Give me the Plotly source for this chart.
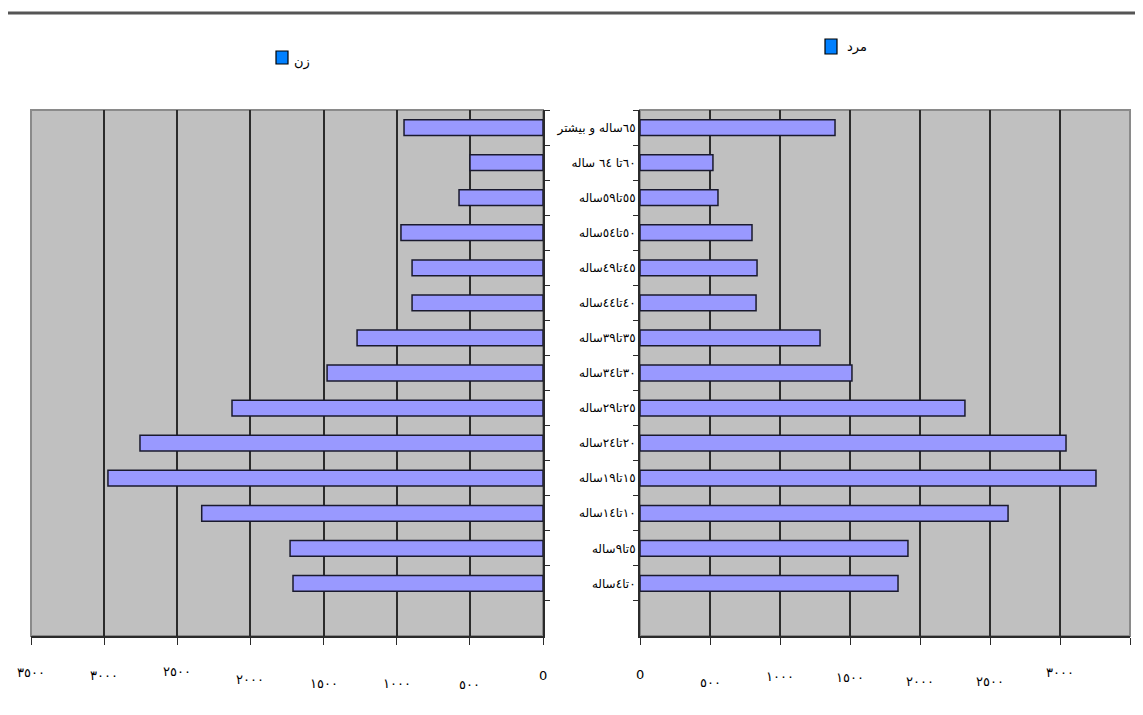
import plotly.graph_objects as go

W, H = 1143, 715

categories = ["٠تا٤ساله", "٥تا٩ساله", "١٠تا١٤ساله", "١٥تا١٩ساله", "٢٠تا٢٤ساله",
              "٢٥تا٢٩ساله", "٣٠تا٣٤ساله", "٣٥تا٣٩ساله", "٤٠تا٤٤ساله", "٤٥تا٤٩ساله",
              "٥٠تا٥٤ساله", "٥٥تا٥٩ساله", "٦٠تا ٦٤ ساله", "٦٥ساله و بیشتر"]
women = [1709, 1729, 2333, 2974, 2755, 2126, 1476, 1271, 895, 895, 971, 574, 499, 950]
men = [1843, 1914, 2629, 3257, 3043, 2321, 1514, 1286, 829, 836, 800, 557, 521, 1393]

tick_vals = [0, 500, 1000, 1500, 2000, 2500, 3000, 3500]
tick_text_left = ["0", "٥٠٠", "١٠٠٠", "١٥٠٠", "٢٠٠٠", "٢٥٠٠", "٣٠٠٠", "٣٥٠٠"]
tick_text_right = ["0", "٥٠٠", "١٠٠٠", "١٥٠٠", "٢٠٠٠", "٢٥٠٠", "٣٠٠٠", ""]

legend_women = "زن"
legend_men = "مرد"

FONT = "DejaVu Sans"
BAR_FILL = "#9999FF"
BAR_LINE = "#1a1a2e"
LEG_FILL = "#0080FF"

# screen-pixel -> paper fraction (the page body adds an 8px margin)
OX, PW, OY, PH = 8.0, 1143.0, 8.0, 715.0


def fx(px):
    return (px - OX) / PW


def fy(py):
    return 1 - (py - OY) / PH


# vertical screen position of each tick label (the original staggers them)
label_y_left = [675, 684, 683, 683, 679, 671, 675, 672]
label_y_right = [674, 682, 676, 677, 681, 681, 672, 0]

fig = go.Figure()

fig.add_trace(go.Bar(y=categories, x=women, orientation="h", xaxis="x", yaxis="y",
                     marker=dict(color=BAR_FILL, line=dict(color=BAR_LINE, width=1.5)),
                     width=0.45, showlegend=False, hoverinfo="x+y"))
fig.add_trace(go.Bar(y=categories, x=men, orientation="h", xaxis="x2", yaxis="y2",
                     marker=dict(color=BAR_FILL, line=dict(color=BAR_LINE, width=1.5)),
                     width=0.45, showlegend=False, hoverinfo="x+y"))

ydom = [fy(636), fy(110)]
xdom1 = [fx(31), fx(543)]
xdom2 = [fx(640), fx(1130)]

common_x = dict(tickvals=tick_vals, showgrid=True, gridcolor="#2b2b2b", gridwidth=1.5,
                showline=True, linecolor="#2b2b2b", linewidth=2, ticks="outside",
                ticklen=7, tickcolor="#2b2b2b", showticklabels=False,
                zeroline=False, fixedrange=True)
common_y = dict(type="category", categoryorder="array", categoryarray=categories,
                range=[-1.5, 13.5], domain=ydom, showgrid=False, showline=True,
                linecolor="#2b2b2b", linewidth=2, ticks="outside", tickson="boundaries",
                ticklen=5, tickcolor="#2b2b2b", fixedrange=True)

shapes = [
    dict(type="line", xref="paper", yref="paper", x0=0, x1=1, y0=fy(13), y1=fy(13),
         line=dict(color="#555", width=3)),
    dict(type="rect", xref="x domain", yref="y domain", x0=0, x1=1, y0=0, y1=1,
         line=dict(color="#8a8a8a", width=2), layer="below"),
    dict(type="rect", xref="x2 domain", yref="y2 domain", x0=0, x1=1, y0=0, y1=1,
         line=dict(color="#8a8a8a", width=2), layer="below"),
    # legend keys
    dict(type="rect", xref="paper", yref="paper", x0=fx(276), x1=fx(288), y0=fy(64), y1=fy(51),
         fillcolor=LEG_FILL, line=dict(color="#000", width=1.2)),
    dict(type="rect", xref="paper", yref="paper", x0=fx(825), x1=fx(837), y0=fy(54), y1=fy(39),
         fillcolor=LEG_FILL, line=dict(color="#000", width=1.2)),
]

annotations = [
    dict(text=legend_women, xref="paper", yref="paper", x=fx(292), y=fy(62),
         xanchor="left", yanchor="middle", showarrow=False,
         font=dict(family=FONT, size=13, color="#000")),
    dict(text=legend_men, xref="paper", yref="paper", x=fx(845), y=fy(47),
         xanchor="left", yanchor="middle", showarrow=False,
         font=dict(family=FONT, size=13, color="#000")),
]

for v, t, yy in zip(tick_vals, tick_text_left, label_y_left):
    annotations.append(dict(text=t, xref="x", yref="paper", x=v, y=fy(yy),
                            xanchor="center", yanchor="middle", showarrow=False,
                            font=dict(family=FONT, size=13, color="#000")))
for v, t, yy in zip(tick_vals, tick_text_right, label_y_right):
    if t:
        annotations.append(dict(text=t, xref="x2", yref="paper", x=v, y=fy(yy),
                                xanchor="center", yanchor="middle", showarrow=False,
                                font=dict(family=FONT, size=13, color="#000")))

fig.update_layout(
    width=W, height=H,
    margin=dict(l=0, r=0, t=0, b=0),
    paper_bgcolor="white", plot_bgcolor="#C0C0C0",
    font=dict(family=FONT, size=12, color="#000"),
    showlegend=False,
    xaxis=dict(domain=xdom1, range=[3500, 0], anchor="y", **common_x),
    xaxis2=dict(domain=xdom2, range=[0, 3500], anchor="y2", **common_x),
    yaxis=dict(anchor="x", side="right", showticklabels=False, **common_y),
    yaxis2=dict(anchor="x2", side="left", showticklabels=True,
                tickfont=dict(family=FONT, size=12, color="#000"), **common_y),
    shapes=shapes,
    annotations=annotations,
)

fig.write_html("out.html")
